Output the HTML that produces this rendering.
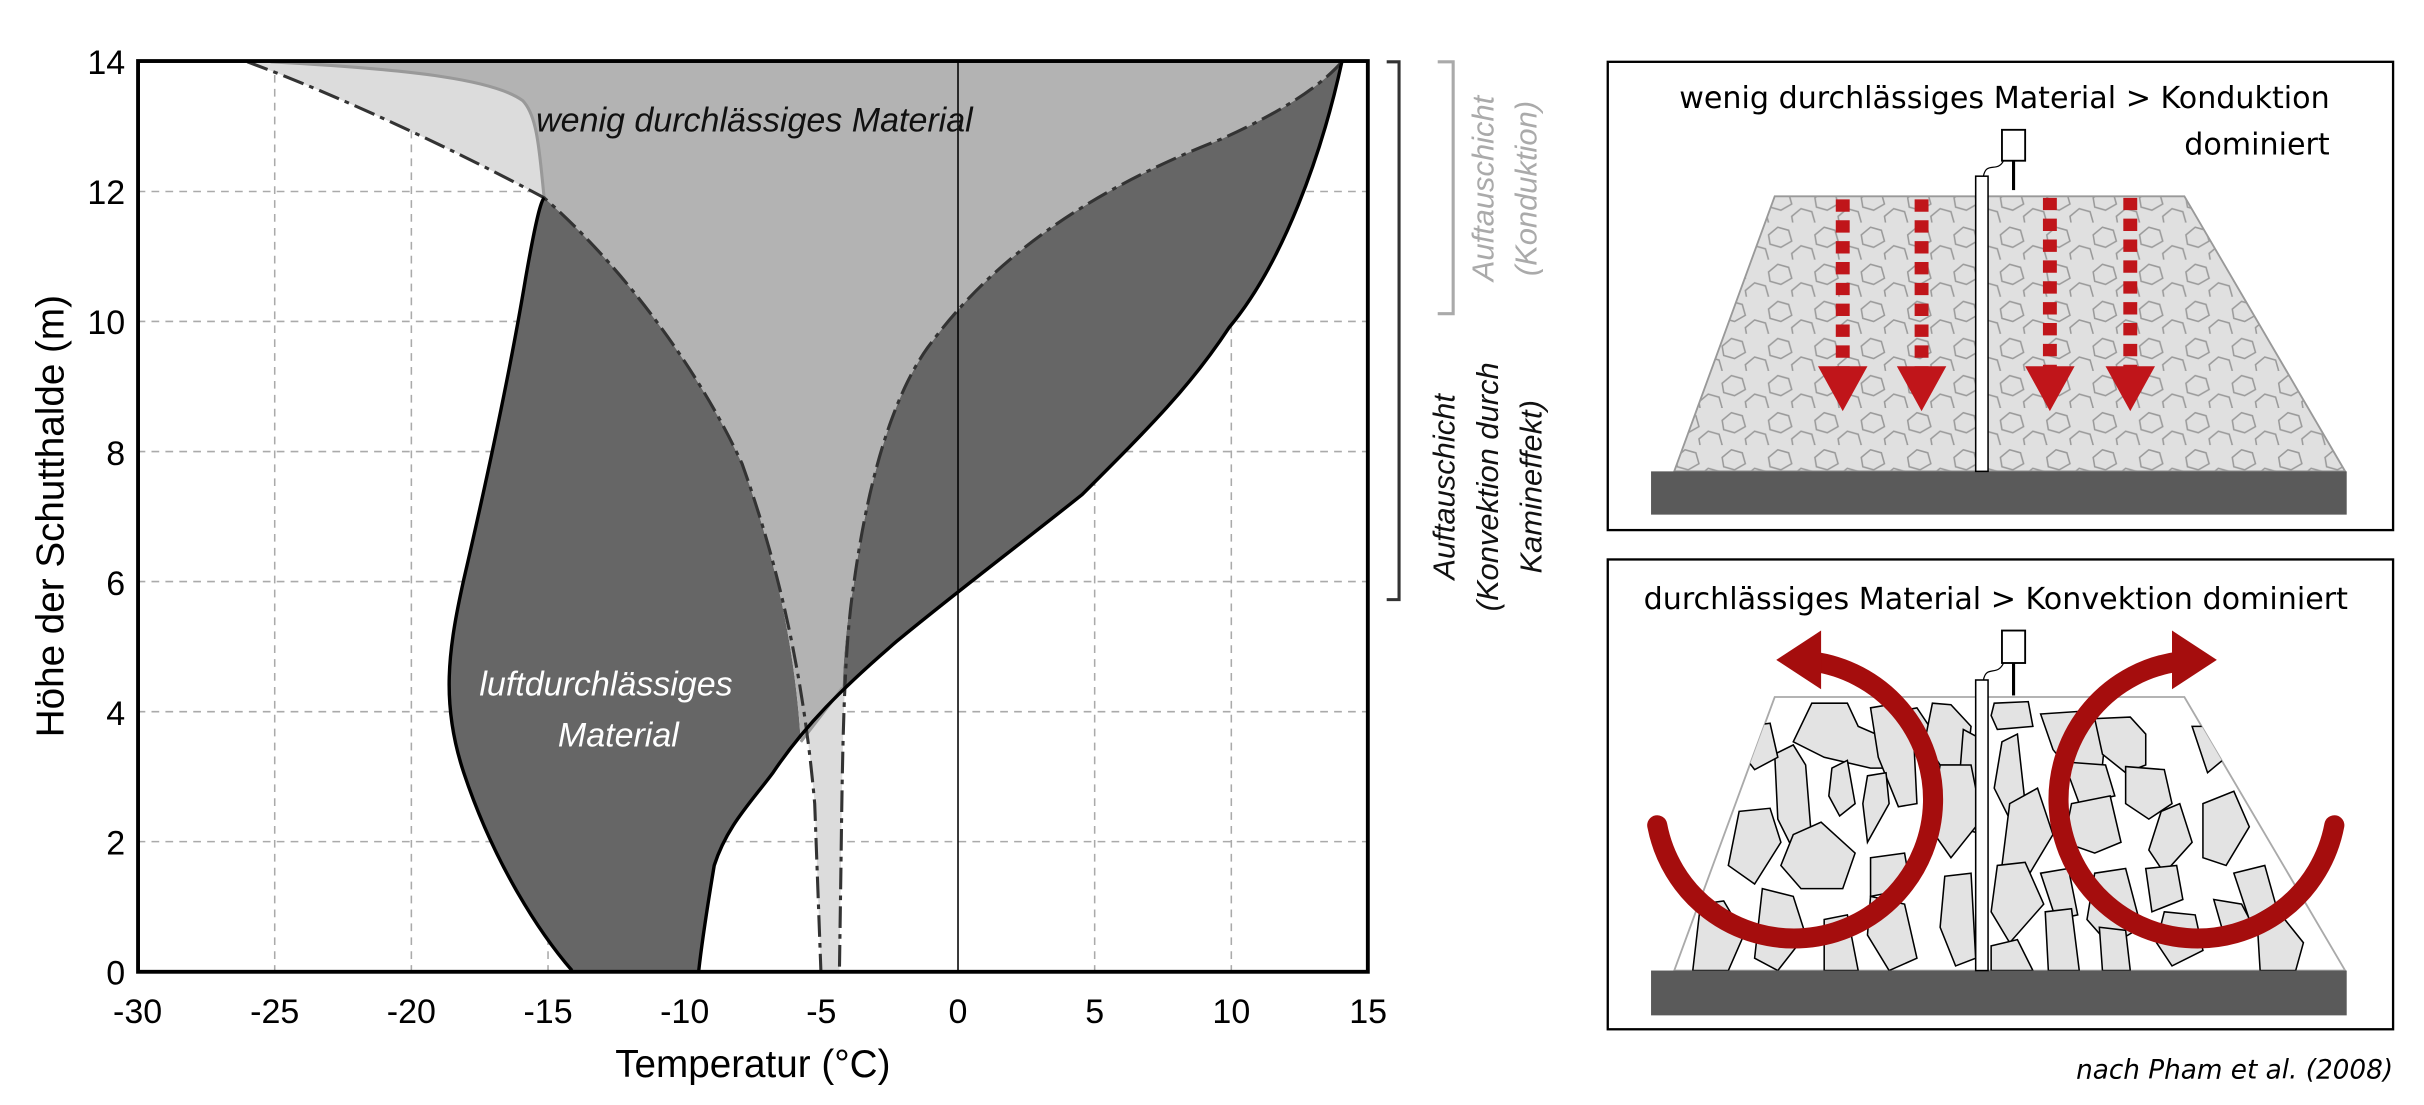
<!DOCTYPE html>
<html><head><meta charset="utf-8"><style>
html,body{margin:0;padding:0;background:#fff;}
svg{display:block;}
text{font-family:"Liberation Sans",sans-serif;}
</style></head><body>
<svg width="2424" height="1105" viewBox="0 0 1568 715" preserveAspectRatio="none" xmlns="http://www.w3.org/2000/svg">
<defs>
<pattern id="rk" width="30" height="24" patternUnits="userSpaceOnUse">
<path d="M4,8 L10,3 L17,5 L19,12 L12,16 L5,14 Z" fill="none" stroke="#9a9a9a" stroke-width="1"/>
<path d="M19,20 L25,15 L32,17 L34,24 L27,28 L20,26 Z" fill="none" stroke="#9a9a9a" stroke-width="1"/>
<path d="M-11,20 L-5,15 L2,17 L4,24 L-3,28 L-10,26 Z" fill="none" stroke="#9a9a9a" stroke-width="1"/>
</pattern>
<clipPath id="tz2"><polygon points="1148,451 1413,451 1517,628 1083,628"/></clipPath>
</defs>

<g stroke="#aaa" stroke-width="1" stroke-dasharray="5,4">
<line x1="177.7" y1="39.5" x2="177.7" y2="628.8"/><line x1="266.1" y1="39.5" x2="266.1" y2="628.8"/>
<line x1="354.5" y1="39.5" x2="354.5" y2="628.8"/><line x1="442.9" y1="39.5" x2="442.9" y2="628.8"/>
<line x1="531.3" y1="39.5" x2="531.3" y2="628.8"/><line x1="708.1" y1="39.5" x2="708.1" y2="628.8"/>
<line x1="796.5" y1="39.5" x2="796.5" y2="628.8"/>
<line x1="89" y1="544.6" x2="885" y2="544.6"/><line x1="89" y1="460.5" x2="885" y2="460.5"/>
<line x1="89" y1="376.3" x2="885" y2="376.3"/><line x1="89" y1="292.2" x2="885" y2="292.2"/>
<line x1="89" y1="208" x2="885" y2="208"/><line x1="89" y1="123.9" x2="885" y2="123.9"/>
</g>

<path d="M160,40 C220,62 300,100 352,128 C400,170 450,235 480,300 C505,370 520,440 527,520 L531,628 L543,628 L544,560 C545,480 546,420 552,380 C560,320 575,260 600,225 C640,170 700,125 790,90 C830,72 855,55 868,40 Z" fill="#dcdcdc"/>
<path d="M370,628 C350,605 320,560 300,500 C285,455 290,420 300,375 C315,310 330,240 340,180 C347,140 350,130 352,128 C400,170 450,235 480,300 C505,370 515,430 518,480 L545,445 C546,420 548,400 552,380 C560,320 575,260 600,225 C640,170 700,125 790,90 C830,72 855,55 868,40 C855,100 830,170 795,212 C770,250 745,275 700,320 C660,352 620,382 580,415 C545,445 520,470 500,500 C485,520 470,535 462,560 C457,590 454,610 452,628 Z" fill="#666"/>
<path d="M175,40 L868,40 C855,55 830,72 790,90 C700,125 640,170 600,225 C575,260 560,320 552,380 C548,400 546,420 545,445 L518,480 C515,430 505,370 480,300 C450,235 400,170 352,128 C349,100 348,75 338,65 C320,52 270,45 175,40 Z" fill="#b3b3b3"/>

<path d="M175,40 C270,45 320,52 338,65 C348,75 349,100 352,128" fill="none" stroke="#999" stroke-width="2"/>
<line x1="518" y1="480" x2="545" y2="445" stroke="#999" stroke-width="2"/>
<g fill="none" stroke="#333" stroke-width="2" stroke-dasharray="14,4,3,4">
<path d="M160,40 C220,62 300,100 352,128 C400,170 450,235 480,300 C505,370 520,440 527,520 L531,628"/>
<path d="M868,40 C855,55 830,72 790,90 C700,125 640,170 600,225 C575,260 560,320 552,380 C546,420 545,480 544,560 L543,628"/>
</g>
<g fill="none" stroke="#000" stroke-width="2.2">
<path d="M370,628 C350,605 320,560 300,500 C285,455 290,420 300,375 C315,310 330,240 340,180 C347,140 350,130 352,128"/>
<path d="M868,40 C855,100 830,170 795,212 C770,250 745,275 700,320 C660,352 620,382 580,415 C545,445 520,470 500,500 C485,520 470,535 462,560 C457,590 454,610 452,628"/>
</g>
<line x1="619.7" y1="39.5" x2="619.7" y2="628.8" stroke="#000" stroke-width="1"/>
<rect x="89.3" y="39.5" width="795.5" height="589.3" fill="none" stroke="#000" stroke-width="2.5"/>

<text x="488" y="85" font-size="22" font-style="italic" text-anchor="middle" fill="#111">wenig durchlässiges Material</text>
<text x="392" y="450" font-size="22" font-style="italic" text-anchor="middle" fill="#fff">luftdurchlässiges</text>
<text x="400" y="483" font-size="22" font-style="italic" text-anchor="middle" fill="#fff">Material</text>

<g font-size="22" text-anchor="middle" fill="#000">
<text x="89" y="662">-30</text><text x="177.7" y="662">-25</text><text x="266.1" y="662">-20</text>
<text x="354.5" y="662">-15</text><text x="442.9" y="662">-10</text><text x="531.3" y="662">-5</text>
<text x="619.7" y="662">0</text><text x="708.1" y="662">5</text><text x="796.5" y="662">10</text>
<text x="885" y="662">15</text>
</g>
<g font-size="22" text-anchor="end" fill="#000">
<text x="81" y="637">0</text><text x="81" y="553">2</text><text x="81" y="469">4</text>
<text x="81" y="385">6</text><text x="81" y="301">8</text><text x="81" y="216">10</text>
<text x="81" y="132">12</text><text x="81" y="48">14</text>
</g>
<text x="487" y="697" font-size="25" text-anchor="middle">Temperatur (°C)</text>
<text transform="translate(41,334) rotate(-90)" font-size="25" text-anchor="middle">Höhe der Schutthalde (m)</text>

<path d="M897,40 L905,40 L905,388 L897,388" fill="none" stroke="#333" stroke-width="2"/>
<path d="M930,40 L940,40 L940,203 L930,203" fill="none" stroke="#aaa" stroke-width="2"/>
<g font-size="20" font-style="italic" text-anchor="middle" fill="#aaa">
<text transform="translate(966,122) rotate(-90)">Auftauschicht</text>
<text transform="translate(994,122) rotate(-90)">(Konduktion)</text>
</g>
<g font-size="20" font-style="italic" text-anchor="middle" fill="#111">
<text transform="translate(941,315) rotate(-90)">Auftauschicht</text>
<text transform="translate(969,315) rotate(-90)">(Konvektion durch</text>
<text transform="translate(997,315) rotate(-90)">Kamineffekt)</text>
</g>

<rect x="1040" y="40" width="508" height="303" fill="#fff" stroke="#000" stroke-width="1.5"/>
<g font-size="19.5" fill="#000" text-anchor="end">
<text x="1507" y="70" style="font-family:'DejaVu Sans',sans-serif">wenig durchlässiges Material &gt; Konduktion</text>
<text x="1507" y="100" style="font-family:'DejaVu Sans',sans-serif">dominiert</text>
</g>
<polygon points="1148,127 1413,127 1517,305 1083,305" fill="#e0e0e0" stroke="#999" stroke-width="1.2"/>
<polygon points="1148,127 1413,127 1517,305 1083,305" fill="url(#rk)"/>
<rect x="1068" y="305" width="450" height="28" fill="#5a5a5a"/>
<rect x="1278" y="114" width="8" height="191" fill="#fff" stroke="#000" stroke-width="1"/>
<rect x="1295" y="84" width="15" height="20" fill="#fff" stroke="#000" stroke-width="1.2"/>
<line x1="1302.5" y1="104" x2="1302.5" y2="123" stroke="#000" stroke-width="2"/>
<path d="M1283,114 C1285,104 1292,112 1296,104" fill="none" stroke="#000" stroke-width="0.8"/>
<g stroke="#c0151a" stroke-width="9" stroke-dasharray="8,5.5" fill="none">
<line x1="1192" y1="129" x2="1192" y2="245"/><line x1="1243" y1="129" x2="1243" y2="245"/>
<line x1="1326" y1="128" x2="1326" y2="245"/><line x1="1378" y1="128" x2="1378" y2="245"/>
</g>
<g fill="#c0151a">
<polygon points="1176,237 1208,237 1192,266"/><polygon points="1227,237 1259,237 1243,266"/>
<polygon points="1310,237 1342,237 1326,266"/><polygon points="1362,237 1394,237 1378,266"/>
</g>

<rect x="1040" y="362" width="508" height="304" fill="#fff" stroke="#000" stroke-width="1.5"/>
<text x="1291" y="394" font-size="19.5" text-anchor="middle" style="font-family:'DejaVu Sans',sans-serif">durchlässiges Material &gt; Konvektion dominiert</text>
<polygon points="1148,451 1413,451 1517,628 1083,628" fill="#fff" stroke="#aaa" stroke-width="1.2"/>
<g clip-path="url(#tz2)" fill="#e3e3e3" stroke="#000" stroke-width="1">
<path d="M1172,455 L1195,455 L1202,470 L1225,480 L1230,497 L1210,497 L1180,490 L1160,480 Z"/>
<path d="M1210,458 L1222,456 L1238,480 L1240,520 L1228,522 L1215,490 Z"/>
<path d="M1230,460 L1240,458 L1248,470 L1250,478 L1242,478 Z"/>
<path d="M1250,455 L1262,456 L1275,470 L1272,495 L1255,495 L1245,480 Z"/>
<path d="M1290,455 L1312,454 L1315,470 L1292,472 L1288,463 Z"/>
<path d="M1320,462 L1350,460 L1362,475 L1360,495 L1340,500 L1328,485 Z"/>
<path d="M1355,465 L1378,464 L1388,475 L1388,495 L1375,500 L1360,488 Z"/>
<path d="M1148,488 L1160,482 L1168,495 L1172,545 L1160,550 L1150,530 Z"/>
<path d="M1185,497 L1195,492 L1200,520 L1190,528 L1183,515 Z"/>
<path d="M1208,502 L1220,500 L1222,520 L1208,545 L1205,520 Z"/>
<path d="M1270,472 L1285,480 L1283,540 L1265,535 Z"/>
<path d="M1295,480 L1305,475 L1310,520 L1300,530 L1290,510 Z"/>
<path d="M1335,493 L1362,495 L1368,515 L1345,520 Z"/>
<path d="M1375,496 L1400,498 L1405,520 L1390,530 L1375,520 Z"/>
<path d="M1340,520 L1365,515 L1372,545 L1355,552 L1335,545 Z"/>
<path d="M1398,525 L1410,520 L1418,545 L1400,565 L1390,550 Z"/>
<path d="M1125,525 L1145,523 L1152,545 L1135,572 L1118,560 Z"/>
<path d="M1160,540 L1178,532 L1200,552 L1192,575 L1165,575 L1152,560 Z"/>
<path d="M1255,495 L1275,495 L1282,530 L1262,555 L1248,535 Z"/>
<path d="M1300,520 L1318,510 L1328,540 L1310,570 L1295,560 Z"/>
<path d="M1210,555 L1232,552 L1236,575 L1210,580 Z"/>
<path d="M1258,567 L1275,565 L1278,620 L1265,625 L1255,600 Z"/>
<path d="M1292,560 L1310,558 L1322,585 L1300,610 L1288,590 Z"/>
<path d="M1320,565 L1338,562 L1344,592 L1330,595 Z"/>
<path d="M1355,565 L1375,562 L1385,600 L1365,612 L1350,595 Z"/>
<path d="M1388,562 L1408,560 L1412,582 L1392,590 Z"/>
<path d="M1100,585 L1115,583 L1128,605 L1118,628 L1095,628 Z"/>
<path d="M1140,575 L1160,580 L1168,605 L1150,628 L1135,620 Z"/>
<path d="M1180,595 L1195,592 L1202,628 L1180,628 Z"/>
<path d="M1210,580 L1232,585 L1240,620 L1222,628 L1208,605 Z"/>
<path d="M1288,612 L1305,608 L1315,628 L1288,628 Z"/>
<path d="M1323,590 L1340,588 L1345,628 L1325,628 Z"/>
<path d="M1358,600 L1375,602 L1378,628 L1360,628 Z"/>
<path d="M1400,590 L1420,592 L1425,615 L1405,625 L1395,610 Z"/>
<path d="M1432,582 L1450,585 L1458,600 L1440,610 Z"/>
<path d="M1460,595 L1478,595 L1490,610 L1485,628 L1462,628 Z"/>
<path d="M1418,470 L1432,470 L1440,490 L1428,500 Z"/>
<path d="M1425,520 L1445,512 L1455,535 L1440,560 L1425,555 Z"/>
<path d="M1445,565 L1465,560 L1472,585 L1455,595 Z"/>
<path d="M1130,470 L1145,468 L1150,490 L1135,498 L1125,485 Z"/>
</g>
<rect x="1068" y="628" width="450" height="29" fill="#5a5a5a"/>
<rect x="1278" y="440" width="8" height="188" fill="#fff" stroke="#000" stroke-width="1"/>
<rect x="1295" y="408" width="15" height="21" fill="#fff" stroke="#000" stroke-width="1.2"/>
<line x1="1302.5" y1="429" x2="1302.5" y2="450" stroke="#000" stroke-width="2"/>
<path d="M1283,440 C1285,430 1292,438 1296,429" fill="none" stroke="#000" stroke-width="0.8"/>
<g fill="none" stroke="#a50d0d" stroke-width="13" stroke-linecap="round">
<path d="M1072,534 A90,90 0 1 0 1172,428"/>
<path d="M1510,534 A90,90 0 1 1 1410,428"/>
</g>
<g fill="#a50d0d">
<polygon points="1149,427 1178,408 1178,446"/>
<polygon points="1434,427 1405,408 1405,446"/>
</g>
<text x="1548" y="698" font-size="17" font-style="italic" text-anchor="end" style="font-family:'DejaVu Sans',sans-serif">nach Pham et al. (2008)</text>
</svg>
</body></html>
